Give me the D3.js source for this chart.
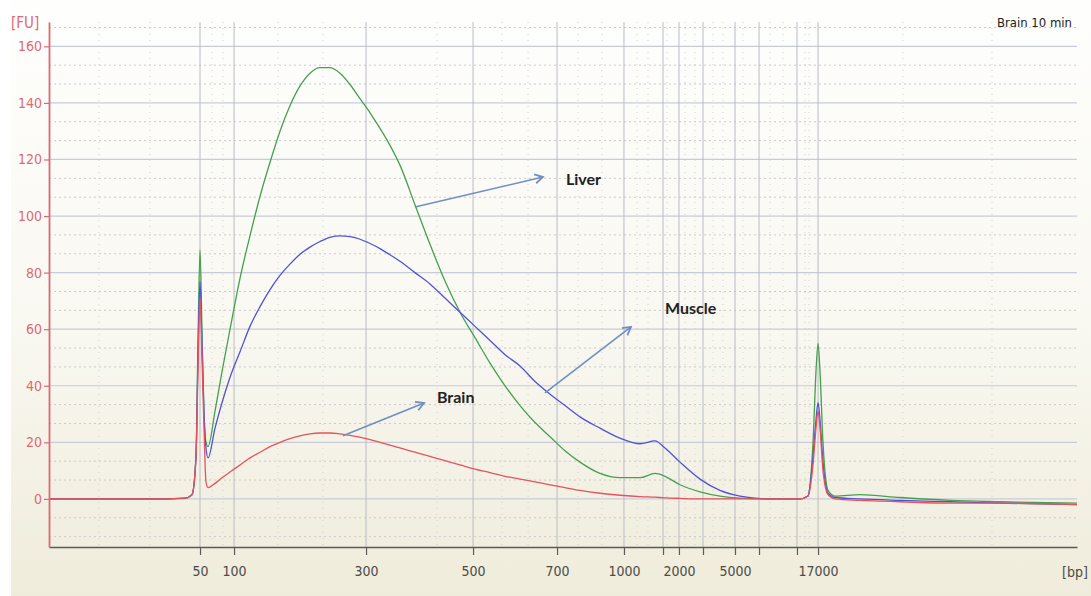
<!DOCTYPE html>
<html><head><meta charset="utf-8">
<script src="https://cdn.jsdelivr.net/npm/d3@7"></script>
<style>html,body{margin:0;padding:0;background:#fff;} svg{display:block;}</style>
</head><body><svg id="c" width="1091" height="596"></svg>
<script>
// ---- data (x = migration time units, y = fluorescence units) ----
const tickTimes  = [14.69, 18.0, 30.84, 41.25, 49.42, 55.93, 59.73, 61.28, 63.62, 66.73, 69.07, 72.76, 74.81];
const tickLabels = ["50", "100", "300", "500", "700", "1000", "", "2000", "", "5000", "", "", "17000"];
const minorTimes = [4.86, 9.82, 15.86, 16.93, 22.28, 26.65, 37.74, 44.07, 46.6, 51.46, 53.79, 57.2, 58.27, 60.12, 61.87, 62.84, 64.59, 65.56, 67.51, 70.14, 71.4, 73.54, 73.93, 83.07, 91.73];
const yTicks = [0, 20, 40, 60, 80, 100, 120, 140, 160];

const times = [0, 4.96, 9.82, 13.23, 13.91, 14.30, 14.49, 14.69, 14.88, 15.08, 15.27, 15.47,
  16.15, 16.83, 17.61, 18.58, 19.55, 20.53, 21.50, 22.47, 23.44, 24.42, 25.39, 26.36, 27.33, 28.31, 29.28, 30.25, 31.23, 32.20, 33.17, 34.14,
  35.60, 37.06, 38.52, 39.98, 41.44, 42.90, 44.36, 45.82, 47.28, 48.74, 50.19, 51.65, 53.60, 55.54, 57.49, 58.95, 59.92, 61.38, 63.33, 65.27, 67.22, 70.14, 73.05,
  73.83, 74.32, 74.61, 74.81, 75.00, 75.29, 75.78, 76.46, 78.89, 82.78, 87.65, 92.51, 100];
const liver = [0, 0, 0, 0.3, 1.5, 15, 55, 88, 60, 30, 20, 18.5,
  31, 45, 60, 78, 93, 107, 119, 130, 139, 146, 150.5, 152.5, 152.5, 150.5, 146.5, 141.5, 136.5, 131, 125, 118,
  104, 90, 77, 66, 57, 48, 40, 33, 27, 22, 17, 13, 9, 7.5, 7.5, 9, 8, 5, 2.5, 1, 0.3, 0, 0,
  1, 20, 45, 55, 45, 20, 3, 1, 1.5, 0.5, -0.5, -1, -1.5];
const muscle = [0, 0, 0, 0.2, 1.5, 15, 50, 77, 55, 30, 18, 14.5,
  25, 34, 43, 52, 61, 68, 74, 79, 83, 86.5, 89, 91, 92.5, 93, 92.7, 91.8, 90.3, 88.5, 86.3, 84,
  80, 76, 71, 66, 61, 56, 51, 47, 41.5, 37, 33, 29, 25, 21.5, 19.5, 20.5, 18, 13, 7, 3, 1, 0, 0,
  1, 15, 28, 34, 28, 13, 2, 0.5, 0, -0.5, -1, -1.5, -2];
const brain = [0, 0, 0, 0.3, 1.5, 15, 45, 71, 50, 25, 6, 4,
  5.5, 7.5, 9.5, 12, 14.5, 16.5, 18.5, 20, 21.3, 22.3, 23, 23.3, 23.3, 23, 22.5, 21.8, 21, 20, 19, 18,
  16.5, 15, 13.5, 12, 10.5, 9.3, 8, 7, 6, 5, 4, 3, 2, 1.3, 0.8, 0.6, 0.4, 0.2, 0, 0, 0, 0, 0,
  1, 12, 25, 31, 25, 10, 1.5, 0, -0.5, -1, -1.5, -1.5, -2];

const annLabels = ["Liver", "Muscle", "Brain"];
const annTextPos = [[50.29, 111], [59.92, 65.4], [37.74, 33.9]];
const annArrowFrom = [[35.60, 103.2], [48.25, 37.5], [28.6, 22.3]];
const annArrowTo = [[48.05, 113.8], [56.61, 60.8], [36.48, 33.9]];

// ---- drawing ----
const svg = d3.select("#c");
const W = 1091, H = 596;
const x = d3.scaleLinear().domain([0, 100]).range([49, 1077]);
const y = d3.scaleLinear().domain([-17, 168.6]).range([547, 22]);

const defs = svg.append("defs");
const grad = defs.append("linearGradient").attr("id", "bg").attr("x1", 0).attr("y1", 0).attr("x2", 0).attr("y2", 1);
grad.append("stop").attr("offset", "0%").attr("stop-color", "#fefefd");
grad.append("stop").attr("offset", "55%").attr("stop-color", "#f9f8f1");
grad.append("stop").attr("offset", "100%").attr("stop-color", "#efecdb");
defs.append("marker").attr("id", "arr").attr("viewBox", "0 0 12 12").attr("refX", 10).attr("refY", 6)
  .attr("markerWidth", 12).attr("markerHeight", 12).attr("markerUnits", "userSpaceOnUse").attr("orient", "auto")
  .append("path").attr("d", "M2,1.5 L10,6 L2,10.5").attr("fill", "none").attr("stroke", "#6f8fc2").attr("stroke-width", 1.8);

svg.append("rect").attr("width", W).attr("height", H).attr("fill", "#ffffff");
svg.append("rect").attr("x", 11).attr("y", 0).attr("width", W - 11).attr("height", H).attr("fill", "url(#bg)");

const [x0, x1] = x.range();
const [yb, yt] = y.range();

// minor horizontal dotted grid
const minorY = d3.range(-40, 506, 1).map(i => i * 20 / 3).filter(v => v > -17 && v < 168.6 && Math.abs(v / 20 - Math.round(v / 20)) > 0.01);
svg.append("g").selectAll("line").data(minorY).join("line")
  .attr("x1", x0).attr("x2", x1).attr("y1", d => y(d)).attr("y2", d => y(d))
  .attr("stroke", "#cacacc").attr("stroke-width", 1).attr("stroke-dasharray", "2,3");
// minor vertical dotted grid
svg.append("g").selectAll("line").data(minorTimes).join("line")
  .attr("x1", d => x(d)).attr("x2", d => x(d)).attr("y1", yt).attr("y2", yb)
  .attr("stroke", "#d2d2d2").attr("stroke-width", 1).attr("stroke-dasharray", "1,5");
// major horizontal grid
svg.append("g").selectAll("line").data(yTicks).join("line")
  .attr("x1", x0).attr("x2", x1).attr("y1", d => y(d)).attr("y2", d => y(d))
  .attr("stroke", "#c8cbda").attr("stroke-width", 1.2);
// major vertical grid
svg.append("g").selectAll("line").data(tickTimes).join("line")
  .attr("x1", d => x(d)).attr("x2", d => x(d)).attr("y1", yt).attr("y2", yb)
  .attr("stroke", "#b9bcc6").attr("stroke-width", 1);

// series
const line = d3.line().x((d, i) => x(times[i])).y(d => y(d)).curve(d3.curveMonotoneX);
const series = [[liver, "#45a04f"], [muscle, "#5252d6"], [brain, "#e8525a"]];
series.forEach(([vals, col]) => {
  svg.append("path").attr("d", line(vals)).attr("fill", "none").attr("stroke", col).attr("stroke-width", 1.3).attr("stroke-linejoin", "round");
});

// x axis
const xAxis = d3.axisBottom(x).tickValues(tickTimes).tickFormat((d, i) => tickLabels[i]).tickSize(8).tickSizeOuter(0);
const gx = svg.append("g").attr("transform", `translate(0,${yb})`).call(xAxis);
gx.select(".domain").attr("stroke", "#5a5a56").attr("stroke-width", 1.6);
gx.selectAll(".tick line").attr("stroke", "#5a5a56").attr("stroke-width", 1.2);
gx.selectAll(".tick text").attr("fill", "#4a4a4a").attr("font-family", "'Liberation Sans Narrow','DejaVu Sans Condensed',sans-serif").attr("font-size", 14).attr("dy", "1.25em");

// y axis
const yAxis = d3.axisLeft(y).tickValues(yTicks).tickSize(5).tickSizeOuter(0).tickPadding(2);
const gy = svg.append("g").attr("transform", `translate(${x0},0)`).call(yAxis);
gy.select(".domain").attr("stroke", "#dc6a74").attr("stroke-width", 1.8);
gy.selectAll(".tick line").attr("stroke", "#dc6a74").attr("stroke-width", 1.2);
gy.selectAll(".tick text").attr("fill", "#dc6a74").attr("font-family", "'Liberation Sans Narrow','DejaVu Sans Condensed',sans-serif").attr("font-size", 14);

svg.append("text").attr("x", 11).attr("y", 28).text("[FU]").attr("fill", "#dc6a74")
  .attr("font-family", "'Liberation Sans Narrow','DejaVu Sans Condensed',sans-serif").attr("font-size", 15);
svg.append("text").attr("x", 1062).attr("y", yb + 30).text("[bp]").attr("fill", "#4a4a4a")
  .attr("font-family", "'Liberation Sans Narrow','DejaVu Sans Condensed',sans-serif").attr("font-size", 14);
svg.append("text").attr("x", 1072).attr("y", 27).attr("text-anchor", "end").text("Brain 10 min").attr("fill", "#222")
  .attr("font-family", "'Liberation Sans Narrow','DejaVu Sans Condensed',sans-serif").attr("font-size", 13);

// annotations
annLabels.forEach((lab, i) => {
  svg.append("line")
    .attr("x1", x(annArrowFrom[i][0])).attr("y1", y(annArrowFrom[i][1]))
    .attr("x2", x(annArrowTo[i][0])).attr("y2", y(annArrowTo[i][1]))
    .attr("stroke", "#6f8fc2").attr("stroke-width", 1.6).attr("marker-end", "url(#arr)");
  svg.append("text").attr("x", x(annTextPos[i][0])).attr("y", y(annTextPos[i][1])).text(lab)
    .attr("fill", "#222").attr("font-family", "Lato, 'Open Sans', sans-serif").attr("font-weight", "bold").attr("font-size", 16);
});
</script></body></html>
